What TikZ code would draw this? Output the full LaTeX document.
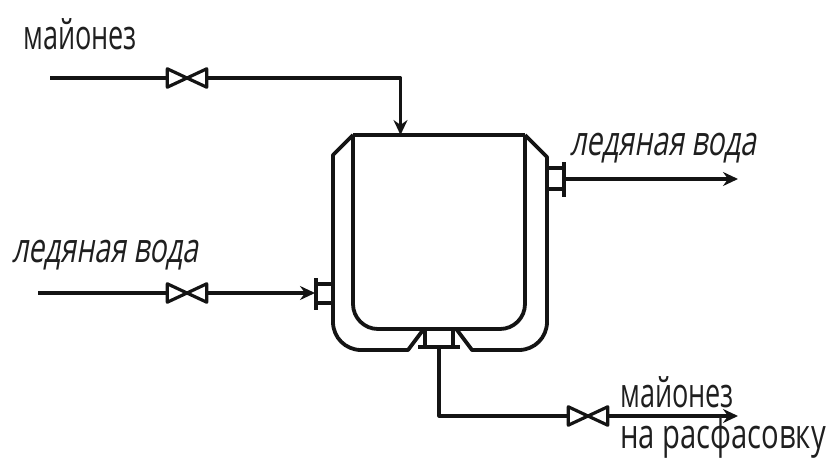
\documentclass[tikz,border=0pt]{standalone}
\usepackage{fontspec}
\setmainfont{Open Sans}
\newfontfamily\slantfont[FakeSlant=0.25]{Open Sans}
\usetikzlibrary{arrows.meta}

\tikzset{
    pipe/.style={line width=3.2pt,line join=round,color=black!92},
    flow/.style={pipe,-{Stealth[length=15pt,width=14pt,inset=5pt]}},
    wall/.style={line width=3.8pt,line join=round,color=black!92},
    valvebox/.style={inner sep=0pt,minimum width=39pt,minimum height=18pt},
    lbl/.style={inner sep=0pt,anchor=base west,font=\fontsize{41}{41}\selectfont,
        xscale=.66,transform shape,color=black!88},
    lblslant/.style={lbl,font=\fontsize{41}{41}\slantfont,xscale=1.05}
}

\begin{document}
\begin{tikzpicture}[x=1pt,y=-1pt]
    \useasboundingbox (0,0) rectangle (836,466);

    % valves
    \node[valvebox] (vtop) at (187,78) {};
    \node[valvebox] (vleft) at (187,293) {};
    \node[valvebox] (vout) at (588,416) {};
    \foreach \v in {vtop,vleft,vout}
        \draw[pipe] (\v.north west) -- (\v.south east) -- (\v.north east) -- (\v.south west) -- cycle;

    % vessel and jacket
    \draw[wall] (353,135) -- (525,135);
    \draw[wall] (353,135) -- (353,304) arc[start angle=180,end angle=90,radius=25] -- (500,329)
        arc[start angle=90,end angle=0,radius=25] -- (525,135);
    \draw[wall] (353,135) -- (333,155) -- (333,322) arc[start angle=180,end angle=90,radius=28]
        -- (408,350) -- (423,330);
    \draw[wall] (525,135) -- (547,157) -- (547,322) arc[start angle=0,end angle=90,radius=28]
        -- (472,350) -- (457,330);

    % nozzles
    \draw[wall] (547,168) -- (564,168) (547,189) -- (564,189);
    \draw[wall] (564,162) -- (564,197);
    \draw[wall] (333,284) -- (316,284) (333,303) -- (316,303);
    \draw[wall] (316,278) -- (316,310);
    \draw[wall] (425,329) -- (425,347) (453,329) -- (453,347);
    \draw[wall] (418,347) -- (460,347);

    % end points
    \coordinate (intop) at (50,78);
    \coordinate (inleft) at (38,293);
    \coordinate (vesseltop) at (400.5,135);
    \coordinate (flleft) at (315,293);
    \coordinate (flright) at (564,179);
    \coordinate (flbottom) at (439,347);
    \coordinate (endright) at (738,179);
    \coordinate (endout) at (738,416);

    % pipes
    \draw[pipe] (intop) -- (vtop.west);
    \draw[flow] (vtop.east) -| (vesseltop);
    \draw[pipe] (inleft) -- (vleft.west);
    \draw[flow] (vleft.east) -- (flleft);
    \draw[flow] (flright) -- (endright);
    \draw[pipe] (flbottom) |- (vout.west);
    \draw[flow] (vout.east) -- (endout);

    % labels
    \node[lbl] (lmayo) at (23,49) {майонез};
    \node[lblslant] (lwaterin) at (12,262) {ледяная вода};
    \node[lblslant] (lwaterout) at (570,155) {ледяная вода};
    \node[lbl] (lmayoout) at (620,407) {майонез};
    \node[lbl,xscale=1.08] (lpack) at (620,448) {на расфасовку};
\end{tikzpicture}
\end{document}
